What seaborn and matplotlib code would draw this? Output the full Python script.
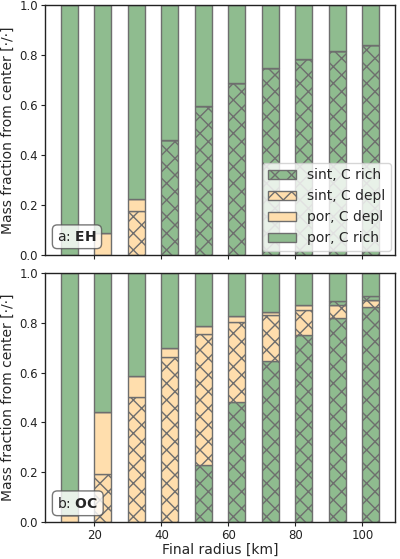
import numpy as np
import matplotlib
matplotlib.use('Agg')
import matplotlib.pyplot as plt
import seaborn as sns

# final radius of the bodies [km]
radius = np.array([10, 20, 30, 40, 50, 60, 70, 80, 90, 100])

# layer mass fractions, listed from the center outwards (por, C rich fills up to 1)
eh_sint_rich = np.array([0.0, 0.0, 0.0, 0.46, 0.597, 0.687, 0.747, 0.783, 0.817, 0.841])
eh_sint_depl = np.array([0.0, 0.0, 0.176, 0.0, 0.0, 0.0, 0.0, 0.0, 0.0, 0.0])
eh_por_depl = np.array([0.0, 0.09, 0.047, 0.0, 0.0, 0.0, 0.0, 0.0, 0.0, 0.0])
eh_sint_rich_outer = np.zeros(10)

oc_sint_rich = np.array([0.0, 0.0, 0.0, 0.0, 0.229, 0.482, 0.648, 0.752, 0.819, 0.863])
oc_sint_depl = np.array([0.0, 0.194, 0.503, 0.664, 0.527, 0.321, 0.182, 0.098, 0.053, 0.027])
oc_por_depl = np.array([0.03, 0.246, 0.082, 0.035, 0.03, 0.023, 0.013, 0.022, 0.0, 0.0])
oc_sint_rich_outer = np.array([0.0, 0.0, 0.0, 0.0, 0.0, 0.0, 0.0, 0.0, 0.014, 0.016])

panels = [("a", "EH", eh_sint_rich, eh_sint_depl, eh_por_depl, eh_sint_rich_outer),
          ("b", "OC", oc_sint_rich, oc_sint_depl, oc_por_depl, oc_sint_rich_outer)]

sns.set_style("ticks")
plt.rcParams['font.family'] = ['DejaVu Sans']
plt.rcParams['font.size'] = 10

green = '#8fbc8f'
peach = '#ffdead'
edge = '#6e6e6e'

fig = plt.figure(figsize=(4.0, 5.59), dpi=100)
ax_top = fig.add_axes([0.1125, 0.5438, 0.875, 0.4472])
ax_bot = fig.add_axes([0.1125, 0.0662, 0.875, 0.4454], sharex=ax_top)

for ax, (tag, name, s_rich, s_depl, p_depl, s_outer) in zip([ax_top, ax_bot], panels):
    kw = dict(width=5, align='edge', edgecolor=edge, linewidth=1.0)
    bottom = np.zeros(len(radius))
    ax.bar(radius, s_rich, bottom=bottom, color=green, hatch='xx', label='sint, C rich', **kw)
    bottom = bottom + s_rich
    ax.bar(radius, s_depl, bottom=bottom, color=peach, hatch='xx', label='sint, C depl', **kw)
    bottom = bottom + s_depl
    ax.bar(radius, p_depl, bottom=bottom, color=peach, label='por, C depl', **kw)
    bottom = bottom + p_depl
    ax.bar(radius, s_outer, bottom=bottom, color=green, hatch='xx', **kw)
    bottom = bottom + s_outer
    ax.bar(radius, 1.0 - bottom, bottom=bottom, color=green, label='por, C rich', **kw)

    ax.set_ylim(0, 1)
    ax.set_yticks(np.arange(0, 1.01, 0.2))
    ax.set_ylabel("Mass fraction from center [·/·]", fontsize=10)
    ax.yaxis.set_label_coords(-0.085, 0.5)
    ax.tick_params(labelsize=8.5, length=3, pad=2, colors='#222222')
    for sp in ax.spines.values():
        sp.set_color('#222222')
        sp.set_linewidth(1.0)
    ax.text(0.035, 0.045, f"{tag}: " + r"$\mathbf{" + name + "}$", transform=ax.transAxes,
            fontsize=10, ha='left', va='bottom',
            bbox=dict(boxstyle='round,pad=0.35', facecolor='white', edgecolor='#555555', alpha=0.8))

ax_top.set_xticks([20, 40, 60, 80, 100])
ax_top.tick_params(labelbottom=False)
ax_bot.set_xlabel("Final radius [km]", fontsize=10, labelpad=1)

handles, labels = ax_top.get_legend_handles_labels()
ax_top.legend(handles, labels, loc='lower right', fontsize=10, framealpha=0.8,
              handlelength=2.0, borderaxespad=0.3)

fig.savefig("out.png", dpi=100)
